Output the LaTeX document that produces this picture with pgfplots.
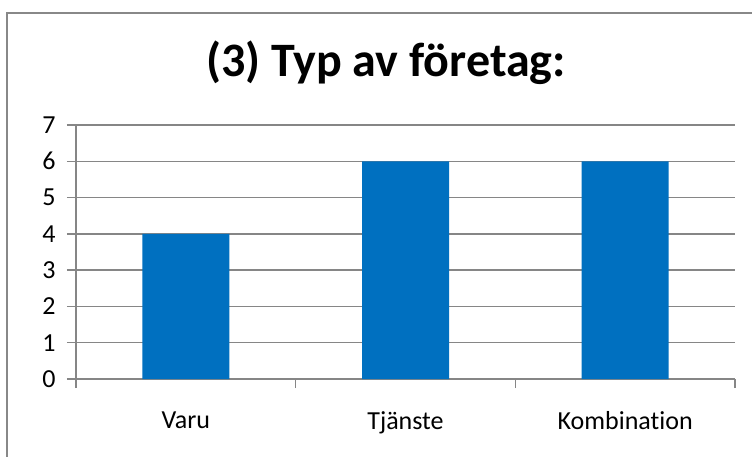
\documentclass[border=0pt]{standalone}
\usepackage{pgfplots}
\pgfplotsset{compat=1.18}
\usepackage{fontspec}
\setmainfont{Carlito}[Ligatures=NoCommon]
\definecolor{barblue}{RGB}{0,112,192}
\definecolor{gridgray}{RGB}{134,134,134}
\definecolor{framegray}{RGB}{136,136,136}
\begin{document}
\begin{tikzpicture}[x=1pt,y=1pt]
\useasboundingbox (0,0) rectangle (752,456);
\fill[white] (0,0) rectangle (752,456);
\draw[framegray, line width=2.2pt] (7,-5) -- (7,443) -- (760,443);
\node[font=\fontsize{48}{54}\selectfont\bfseries] at (386,393) {(3) Typ av företag:};
\begin{axis}[
  at={(76pt,77pt)}, anchor=south west,
  scale only axis, width=659pt, height=254pt,
  xmin=-0.5, xmax=2.5, ymin=0, ymax=7,
  ytick={0,1,...,7},
  xtick={-0.5,0.5,1.5,2.5},
  xticklabels={Varu,Tjänste,Kombination},
  x tick label as interval,
  axis x line*=bottom,
  axis y line*=left,
  tick align=outside,
  tick style={gridgray, line width=1.5pt},
  major tick length=9pt,
  ymajorgrids,
  grid style={gridgray, line width=1.5pt},
  axis line style={gridgray, line width=1.5pt},
  tick label style={font=\fontsize{26}{30}\selectfont},
  yticklabel style={xshift=-8pt},
  xticklabel style={yshift=-20pt},
  /pgf/number format/assume math mode=true,
  ybar, bar width=87pt,
  clip=false,
]
\addplot[fill=barblue, draw=none] coordinates {(0,4) (1,6) (2,6)};
\end{axis}
\end{tikzpicture}
\end{document}
